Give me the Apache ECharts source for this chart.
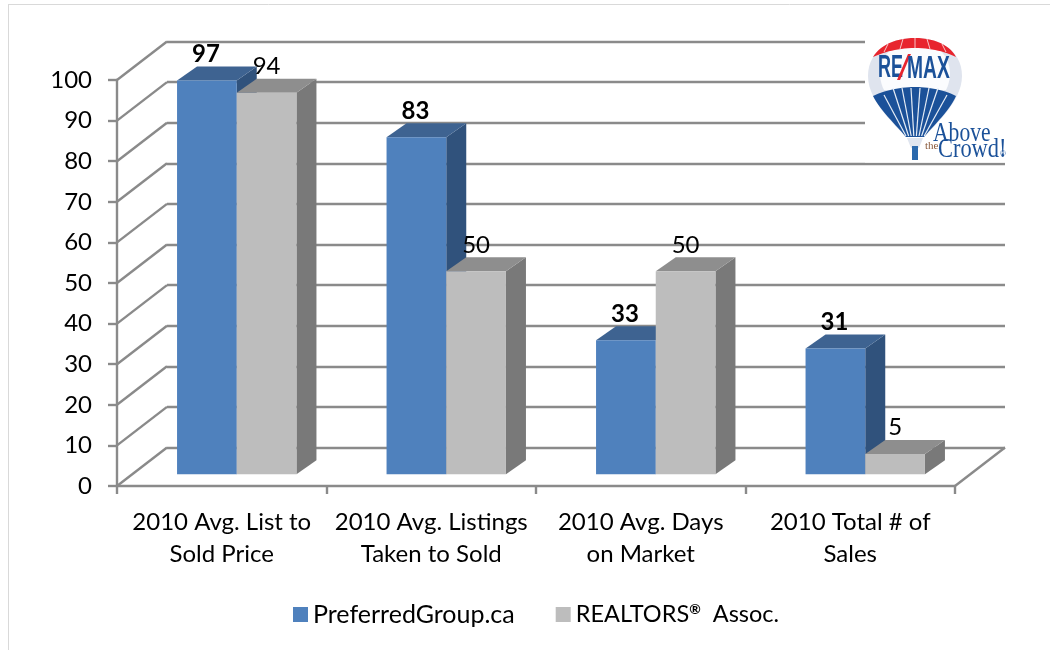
<!DOCTYPE html>
<html>
<head>
<meta charset="utf-8">
<title>2010 comparison</title>
<script src="https://cdn.jsdelivr.net/npm/echarts@6/dist/echarts.min.js"></script>
<style>
    html, body { margin: 0; padding: 0; background: #fff; }
    #chart { width: 1050px; height: 650px; }
</style>
</head>
<body>
<div id="chart"></div>
<script>
// chart values
var categories = [
    "2010 Avg. List to\nSold Price",
    "2010 Avg. Listings\nTaken to Sold",
    "2010 Avg. Days\non Market",
    "2010 Total # of\nSales"
];
var preferredGroup = [97, 83, 33, 31];
var realtorsAssoc = [94, 50, 50, 5];
var yTicks = [0, 10, 20, 30, 40, 50, 60, 70, 80, 90, 100];

// 3D look, px
var FONT = "Lato, 'Noto Sans', sans-serif";
var LINE = "#8a8a8a";
var LINE_W = 2.4;
var WALL_DX = 50, WALL_DY = -38.5;     // front plane -> back wall
var BAR_DX = 15, BAR_DY = -11.7;       // front plane -> bar front face
var SIDE_DX = 20, SIDE_DY = -14;       // depth of a bar
var BAR_W = 59.7;

function poly(points, color) {
    return { type: "polygon", shape: { points: points }, style: { fill: color } };
}

// one cuboid for each value, offset -1 = left bar, 0 = right bar
function barRenderer(offset, colors, bold) {
    return function (params, api) {
        var base = api.coord([api.value(0), 0]);
        var top = api.coord([api.value(0), api.value(1)]);
        var x0 = base[0] + BAR_DX + offset * BAR_W;
        var x1 = x0 + BAR_W;
        var y0 = base[1] + BAR_DY;
        var y1 = top[1] + BAR_DY;
        return {
            type: "group",
            children: [
                poly([[x1, y1], [x1 + SIDE_DX, y1 + SIDE_DY], [x1 + SIDE_DX, y0 + SIDE_DY], [x1, y0]], colors.side),
                poly([[x0, y1], [x0 + SIDE_DX, y1 + SIDE_DY], [x1 + SIDE_DX, y1 + SIDE_DY], [x1, y1]], colors.top),
                poly([[x0, y1], [x1, y1], [x1, y0], [x0, y0]], colors.front),
                {
                    type: "text",
                    z2: 10,
                    style: {
                        x: (x0 + x1) / 2 - (bold ? 1 : 0),
                        y: y1 - 26.5,
                        text: String(api.value(1)),
                        align: "center",
                        verticalAlign: "middle",
                        fill: "#000",
                        font: (bold ? "bold " : "") + "24px " + FONT
                    }
                }
            ]
        };
    };
}

function line(x1, y1, x2, y2) {
    return {
        type: "line",
        shape: { x1: x1, y1: y1, x2: x2, y2: y2 },
        style: { stroke: LINE, lineWidth: LINE_W }
    };
}

// diagonal wall lines, from each y tick to the back wall
function wallRenderer(params, api) {
    var y = api.coord([0, api.value(1)])[1];
    var x = params.coordSys.x;
    var lines = [line(x, y, x + WALL_DX, y + WALL_DY)];
    if (api.value(1) === 0) {
        var xr = x + params.coordSys.width;
        lines.push(line(xr, y, xr + WALL_DX, y + WALL_DY));
    }
    return { type: "group", children: lines };
}

function pairs(values) {
    return values.map(function (v, i) { return [i, v]; });
}

// logo helpers: sampled cubic curves, the graphic component has no svg path type
function cubic(p0, c1, c2, p1) {
    var pts = [];
    for (var i = 0; i <= 14; i++) {
        var t = i / 14, u = 1 - t;
        pts.push([
            u * u * u * p0[0] + 3 * u * u * t * c1[0] + 3 * u * t * t * c2[0] + t * t * t * p1[0],
            u * u * u * p0[1] + 3 * u * u * t * c1[1] + 3 * u * t * t * c2[1] + t * t * t * p1[1]
        ]);
    }
    return pts;
}

function logoText(x, y, text, fill, font, scaleX) {
    return {
        type: "text",
        x: x,
        y: y,
        scaleX: scaleX || 1,
        style: { text: text, align: "left", verticalAlign: "middle", fill: fill, font: font }
    };
}

function logoGraphic() {
    var blue = "#1b5199", red = "#e8252e";
    var heavy = "bold 31px 'Liberation Sans'";
    var serif = "27px 'Liberation Serif'";
    var els = [
        { type: "rect", shape: { x: 865, y: 36, width: 143, height: 126.5 }, style: { fill: "#fff" } },
        // envelope
        poly([].concat(
            cubic([868, 76], [868, 52], [888, 38], [915, 38]),
            cubic([915, 38], [942, 38], [962, 52], [962, 76]),
            cubic([962, 76], [962, 100], [938, 122], [924, 137]),
            cubic([906, 137], [892, 122], [868, 100], [868, 76])
        ), "#dfe4ee"),
        poly([].concat(
            cubic([880, 74], [880, 54], [895, 42], [915, 42]),
            cubic([915, 42], [935, 42], [950, 54], [950, 74]),
            cubic([950, 74], [950, 80], [948, 86], [946, 90]),
            cubic([884, 90], [882, 86], [880, 80], [880, 74])
        ), "#fbfcfe"),
        // red crown
        poly([].concat(
            cubic([873, 57], [880, 45], [896, 38], [915, 38]),
            cubic([915, 38], [934, 38], [950, 45], [956, 57]),
            cubic([956, 57], [946, 52], [932, 48], [915, 48]),
            cubic([915, 48], [898, 48], [884, 52], [873, 57])
        ), red),
        // blue lower part
        poly([].concat(
            cubic([873, 96], [886, 90], [900, 87], [915, 87]),
            cubic([915, 87], [930, 87], [944, 90], [956, 96]),
            cubic([956, 96], [950, 110], [935, 124], [924, 137]),
            cubic([906, 137], [895, 124], [880, 110], [873, 96])
        ), blue),
        // neck and basket
        poly([[907, 138], [923, 138], [919, 148], [911, 148]], "#dfe5ef"),
        { type: "rect", shape: { x: 912, y: 146, width: 6, height: 14 }, style: { fill: "#2a69ad" } },
        logoText(878, 68, "RE", blue, heavy, 0.58),
        poly([[897, 80], [908, 54], [911, 54], [900, 80]], red),
        logoText(907, 69, "MAX", blue, heavy, 0.62),
        logoText(933, 134, "Above", blue, serif, 0.8),
        logoText(925, 146, "the", "#8a5a3c", "11px 'Liberation Serif'"),
        logoText(938, 150, "Crowd!", blue, serif, 0.83),
        logoText(1000, 154, "®", blue, "8px 'Liberation Sans'")
    ];
    // ribs of the blue part and of the crown
    [884, 893, 902, 911, 920, 929, 938, 947].forEach(function (x, i) {
        els.push({
            type: "line",
            shape: { x1: x, y1: i === 0 || i === 7 ? 95 : 88, x2: 906 + i * 2.6, y2: 136 },
            style: { stroke: "#e6edf6", lineWidth: 1.2 }
        });
    });
    [[888, 44, 884, 52], [903, 39, 900, 49], [915, 38, 915, 48], [927, 39, 930, 49], [942, 44, 946, 52]].forEach(function (r) {
        els.push({
            type: "line",
            shape: { x1: r[0], y1: r[1], x2: r[2], y2: r[3] },
            style: { stroke: "#f7c5c7", lineWidth: 1 }
        });
    });
    return els.map(function (el) { el.z = 20; el.silent = true; return el; });
}

var chart = echarts.init(document.getElementById("chart"));

chart.setOption({
    animation: false,
    backgroundColor: "#fff",
    textStyle: { fontFamily: FONT },
    legend: {
        bottom: 18,
        left: 288,
        itemWidth: 15,
        itemHeight: 15,
        itemGap: 41,
        icon: "rect",
        textStyle: {
            fontFamily: FONT,
            fontSize: 25,
            color: "#000",
            rich: {
                base: { fontFamily: FONT, fontSize: 25, color: "#000" },
                small: { fontFamily: FONT, fontSize: 23.5, color: "#000" },
                sup: { fontFamily: FONT, fontSize: 14, color: "#000", fontWeight: "bold", padding: [0, 0, 10, 0] }
            }
        },
        formatter: function (name) {
            var parts = name.split("®");
            return parts.length > 1 ? "{small|" + parts[0] + "}{sup|®}{small|" + parts[1] + "}" : "{base|" + name + "}";
        },
        data: ["PreferredGroup.ca", "REALTORS®  Assoc."]
    },
    grid: [
        { left: 117, right: 95, top: 80, bottom: 164 },    // front plane
        { left: 167, right: 45, top: 41.5, bottom: 202.5 } // back wall
    ],
    xAxis: [
        {
            type: "category",
            gridIndex: 0,
            data: categories,
            axisLine: { lineStyle: { color: LINE, width: LINE_W } },
            axisTick: { show: true, length: 8, lineStyle: { color: LINE, width: LINE_W } },
            axisLabel: { color: "#000", fontFamily: FONT, fontSize: 24, lineHeight: 32, margin: 20, interval: 0 }
        },
        {
            type: "category",
            gridIndex: 1,
            data: categories,
            axisLine: { show: false },
            axisTick: { show: false },
            axisLabel: { show: false }
        }
    ],
    yAxis: [
        {
            type: "value",
            gridIndex: 0,
            min: 0,
            max: 100,
            interval: 10,
            axisLine: { show: true, lineStyle: { color: LINE, width: LINE_W } },
            axisTick: { show: true, length: 9, lineStyle: { color: LINE, width: LINE_W } },
            axisLabel: { color: "#000", fontFamily: FONT, fontSize: 24, margin: 25, padding: [3, 0, 0, 0] },
            splitLine: { show: false }
        },
        {
            type: "value",
            gridIndex: 1,
            min: 0,
            max: 100,
            interval: 10,
            axisLine: { show: false },
            axisTick: { show: false },
            axisLabel: { show: false },
            splitLine: { show: true, lineStyle: { color: LINE, width: LINE_W } }
        }
    ],
    series: [
        {
            name: "wall",
            type: "custom",
            coordinateSystem: "cartesian2d",
            xAxisIndex: 0,
            yAxisIndex: 0,
            silent: true,
            z: 1,
            data: yTicks.map(function (t) { return [0, t]; }),
            renderItem: wallRenderer
        },
        {
            name: "PreferredGroup.ca",
            type: "custom",
            coordinateSystem: "cartesian2d",
            xAxisIndex: 0,
            yAxisIndex: 0,
            z: 3,
            itemStyle: { color: "#4F81BD" },
            data: pairs(preferredGroup),
            renderItem: barRenderer(-1, { front: "#4F81BD", top: "#3E6391", side: "#30527C" }, true)
        },
        {
            name: "REALTORS®  Assoc.",
            type: "custom",
            coordinateSystem: "cartesian2d",
            xAxisIndex: 0,
            yAxisIndex: 0,
            z: 4,
            itemStyle: { color: "#BDBDBD" },
            data: pairs(realtorsAssoc),
            renderItem: barRenderer(0, { front: "#BDBDBD", top: "#8E8E8E", side: "#797979" }, false)
        }
    ],
    graphic: {
        elements: [
            { type: "line", shape: { x1: 8, y1: 4.5, x2: 1050, y2: 4.5 }, style: { stroke: "#d9d9d9", lineWidth: 1 }, silent: true },
            { type: "line", shape: { x1: 8.5, y1: 4, x2: 8.5, y2: 650 }, style: { stroke: "#d9d9d9", lineWidth: 1 }, silent: true }
        ].concat(logoGraphic())
    }
});
</script>
</body>
</html>
